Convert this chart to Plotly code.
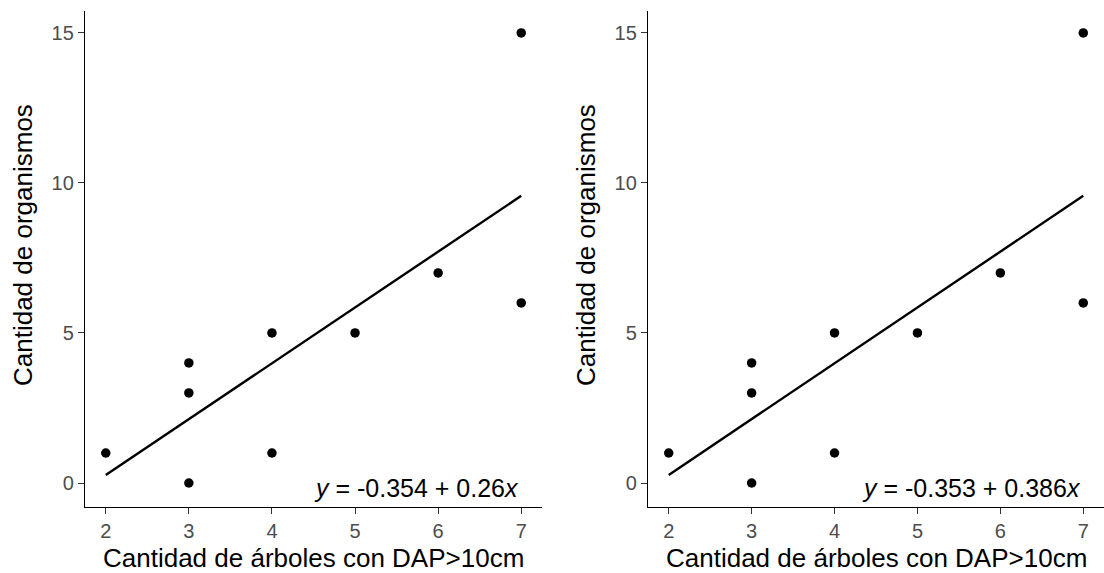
import plotly.graph_objects as go
import numpy as np

# data
x_vals = [2, 3, 3, 3, 4, 4, 5, 6, 7, 7]
y_vals = [1, 0, 3, 4, 1, 5, 5, 7, 6, 15]
fit_x = [2, 7]
fit_y = [0.27, 9.57]
eq_labels = ["<i>y</i> = -0.354 + 0.26<i>x</i>", "<i>y</i> = -0.353 + 0.386<i>x</i>"]
x_ticks = [2, 3, 4, 5, 6, 7]
y_ticks = [0, 5, 10, 15]
x_title = "Cantidad de árboles con DAP>10cm"
y_title = "Cantidad de organismos"

W, H = 1104, 573
FONT = "Liberation Sans, Arial, sans-serif"

fig = go.Figure()
domains = [(85 / W, 542 / W), (648 / W, 1.0)]
ydom = (1 - 507 / H, 1 - 11 / H)

for i in range(2):
    xa = "x" if i == 0 else "x2"
    ya = "y" if i == 0 else "y2"
    fig.add_trace(go.Scatter(x=fit_x, y=fit_y, mode="lines",
                             line=dict(color="black", width=2.4),
                             xaxis=xa, yaxis=ya, showlegend=False))
    fig.add_trace(go.Scatter(x=x_vals, y=y_vals, mode="markers",
                             marker=dict(color="black", size=9.5),
                             xaxis=xa, yaxis=ya, showlegend=False))
    axis_common = dict(showgrid=False, zeroline=False, showline=True,
                       linecolor="black", linewidth=1.4, ticks="outside",
                       ticklen=6, tickwidth=1.1, tickcolor="#333333",
                       tickfont=dict(family=FONT, size=20, color="#4D4D4D"))
    xkey = "xaxis" if i == 0 else "xaxis2"
    ykey = "yaxis" if i == 0 else "yaxis2"
    fig.update_layout(**{
        xkey: dict(domain=list(domains[i]), range=[1.75, 7.25],
                   tickvals=x_ticks, anchor=ya, **axis_common),
        ykey: dict(domain=list(ydom), range=[-0.8, 15.73],
                   tickvals=y_ticks, anchor=xa, **axis_common),
    })
    fig.add_annotation(x=7, y=-0.15, xref=xa, yref=ya, text=eq_labels[i],
                       showarrow=False, xanchor="right", yanchor="middle",
                       font=dict(family=FONT, size=25, color="black"))
    # axis titles
    xc = (domains[i][0] + domains[i][1]) / 2
    fig.add_annotation(x=xc, y=1 - 558 / H, xref="paper", yref="paper",
                       text=x_title, showarrow=False, xanchor="center",
                       yanchor="middle",
                       font=dict(family=FONT, size=26, color="black"))
    ytx = (23 if i == 0 else 586) / W
    fig.add_annotation(x=ytx, y=1 - 245 / H, xref="paper",
                       yref="paper", text=y_title, showarrow=False,
                       textangle=-90, xanchor="center", yanchor="middle",
                       font=dict(family=FONT, size=26, color="black"))

fig.update_layout(width=W, height=H, margin=dict(l=0, r=0, t=0, b=0),
                  paper_bgcolor="white", plot_bgcolor="white",
                  font=dict(family=FONT))
fig.write_html("out.html")
